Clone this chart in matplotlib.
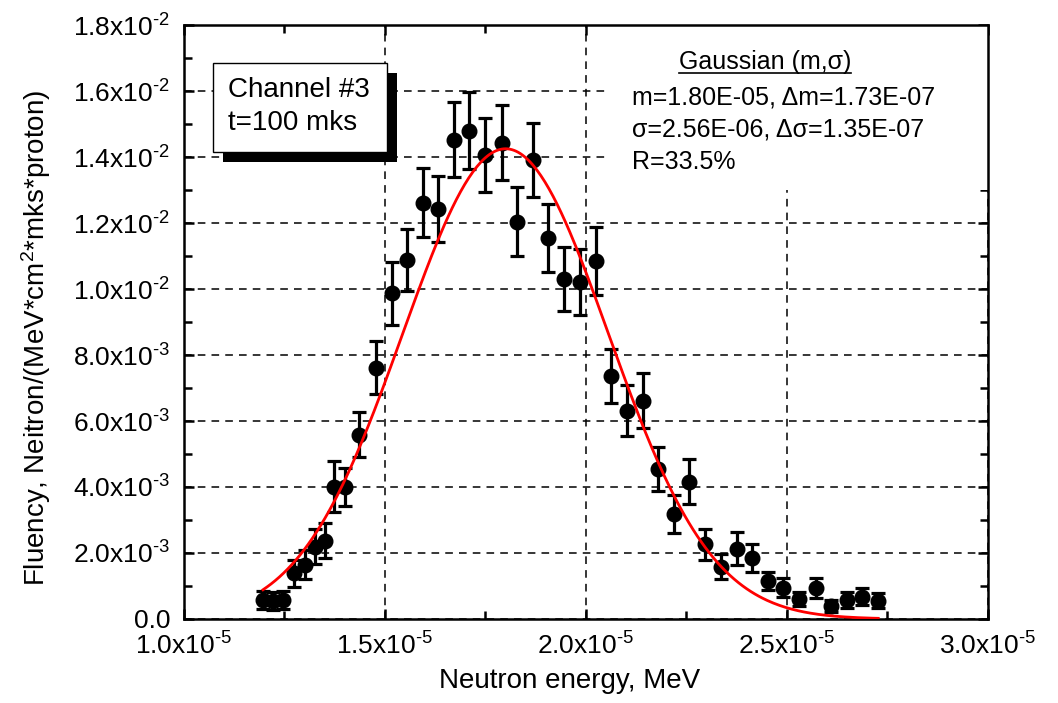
import numpy as np
import matplotlib
matplotlib.use("Agg")
import matplotlib.pyplot as plt
import matplotlib.ticker as mticker
from matplotlib.patches import Rectangle

plt.rcParams['font.family'] = ['Liberation Sans', 'DejaVu Sans']
plt.rcParams['mathtext.fontset'] = 'custom'
plt.rcParams['mathtext.rm'] = 'Liberation Sans'
plt.rcParams['mathtext.it'] = 'Liberation Sans:italic'

# neutron energy, MeV (x1e-5)
energy = np.array([1.1965, 1.2214, 1.2463, 1.2744, 1.3010, 1.3259, 1.3507, 1.3739,
                   1.4005, 1.4361, 1.4769, 1.5167, 1.5555, 1.5938, 1.6326, 1.6716,
                   1.7097, 1.7488, 1.7903, 1.8276, 1.8689, 1.9062, 1.9453, 1.9851,
                   2.0249, 2.0629, 2.1012, 2.1410, 2.1784, 2.2189, 2.2570, 2.2968,
                   2.3358, 2.3749, 2.4137, 2.4535, 2.4908, 2.5306, 2.5714, 2.6095,
                   2.6485, 2.6873, 2.7271]) * 1e-5
# fluency (x1e-3)
fluency = np.array([0.58, 0.55, 0.58, 1.38, 1.64, 2.19, 2.37, 4.01,
                    3.99, 5.58, 7.62, 9.87, 10.88, 12.62, 12.42, 14.52,
                    14.80, 14.06, 14.43, 12.04, 13.91, 11.55, 10.30, 10.20,
                    10.85, 7.36, 6.31, 6.62, 4.54, 3.18, 4.16, 2.26,
                    1.59, 2.13, 1.84, 1.15, 0.95, 0.60, 0.95, 0.39,
                    0.58, 0.68, 0.55]) * 1e-3
fluency_err = np.array([0.28, 0.28, 0.28, 0.41, 0.44, 0.53, 0.53, 0.78,
                        0.58, 0.68, 0.81, 0.96, 0.94, 1.05, 1.00, 1.14,
                        1.16, 1.11, 1.14, 1.04, 1.12, 1.04, 0.96, 1.00,
                        1.04, 0.82, 0.77, 0.84, 0.67, 0.57, 0.68, 0.48,
                        0.38, 0.50, 0.43, 0.28, 0.28, 0.22, 0.30, 0.19,
                        0.24, 0.26, 0.23]) * 1e-3

# gaussian fit parameters
fit_m = 1.80e-5
fit_sigma = 2.56e-6
fit_amp = 1.425e-2

fit_lines = ["m=1.80E-05, \u0394m=1.73E-07",
             "\u03c3=2.56E-06, \u0394\u03c3=1.35E-07",
             "R=33.5%"]


def sci_fmt(v, pos):
    if abs(v) < 1e-12:
        return "0.0"
    exp = int(np.floor(np.log10(abs(v)) + 1e-9))
    mant = v / 10 ** exp
    return r"%.1fx10$^{\text{%d}}$" % (mant, exp)


def main():
    fig = plt.figure(figsize=(10.58, 7.03), dpi=100)
    ax = fig.add_axes([0.1739, 0.1195, 0.7599, 0.8449])

    xs = np.linspace(energy[0], energy[-1], 300)
    ys = fit_amp * np.exp(-0.5 * ((xs - fit_m) / fit_sigma) ** 2)

    ax.errorbar(energy, fluency, yerr=fluency_err, fmt='o', color='black',
                markersize=10.5, elinewidth=2.3, capsize=5, capthick=2.3, zorder=4)
    ax.plot(xs, ys, color='#ff0000', linewidth=2, zorder=5)

    ax.set_xlim(1.0e-5, 3.0e-5)
    ax.set_ylim(0, 1.8e-2)
    ax.xaxis.set_major_locator(mticker.MultipleLocator(0.5e-5))
    ax.xaxis.set_minor_locator(mticker.MultipleLocator(0.25e-5))
    ax.yaxis.set_major_locator(mticker.MultipleLocator(2e-3))
    ax.yaxis.set_minor_locator(mticker.MultipleLocator(1e-3))
    ax.xaxis.set_major_formatter(mticker.FuncFormatter(sci_fmt))
    ax.yaxis.set_major_formatter(mticker.FuncFormatter(sci_fmt))

    ax.tick_params(which='both', direction='in', top=True, right=True,
                   width=1.8, labelsize=19)
    ax.tick_params(which='major', length=7, pad=10)
    ax.tick_params(which='minor', length=6)
    for s in ax.spines.values():
        s.set_linewidth(1.8)

    ax.grid(True, which='major', color='black', linestyle=(0, (5, 4)), linewidth=1.1)
    ax.set_axisbelow(True)

    ax.set_xlabel("Neutron energy, MeV", fontsize=20)
    ax.set_ylabel(r"Fluency, Neitron/(MeV*cm$^{2}$*mks*proton)", fontsize=20)
    ax.xaxis.set_label_coords(0.48, -0.083)
    ax.yaxis.set_label_coords(-0.163, 0.473)

    # white area behind the fit results
    ax.add_patch(Rectangle((0.526, 0.722), 0.474, 0.278, transform=ax.transAxes,
                           facecolor='white', edgecolor='none', zorder=2))

    # channel box with shadow
    ax.add_patch(Rectangle((0.0485, 0.769), 0.2164, 0.150, transform=ax.transAxes,
                           facecolor='black', edgecolor='none', zorder=6))
    ax.add_patch(Rectangle((0.0361, 0.786), 0.2164, 0.150, transform=ax.transAxes,
                           facecolor='white', edgecolor='black', linewidth=1, zorder=7))
    ax.text(0.055, 0.891, "Channel #3", transform=ax.transAxes, fontsize=20,
            va='center', ha='left', zorder=8)
    ax.text(0.055, 0.835, "t=100 mks", transform=ax.transAxes, fontsize=20,
            va='center', ha='left', zorder=8)

    title = ax.text(0.7226, 0.9377, "Gaussian (m,\u03c3)", transform=ax.transAxes,
                    fontsize=18, ha='center', va='center', zorder=8)
    for i, line in enumerate(fit_lines):
        ax.text(0.557, 0.8788 - i * 0.0547, line, transform=ax.transAxes,
                fontsize=18, ha='left', va='center', zorder=8)

    # underline the title
    fig.canvas.draw()
    bb = title.get_window_extent().transformed(ax.transAxes.inverted())
    ax.plot([bb.x0, bb.x1], [bb.y0 + 0.002, bb.y0 + 0.002], transform=ax.transAxes,
            color='black', linewidth=1.2, zorder=8)

    fig.savefig("out.png", dpi=100)


if __name__ == "__main__":
    main()
